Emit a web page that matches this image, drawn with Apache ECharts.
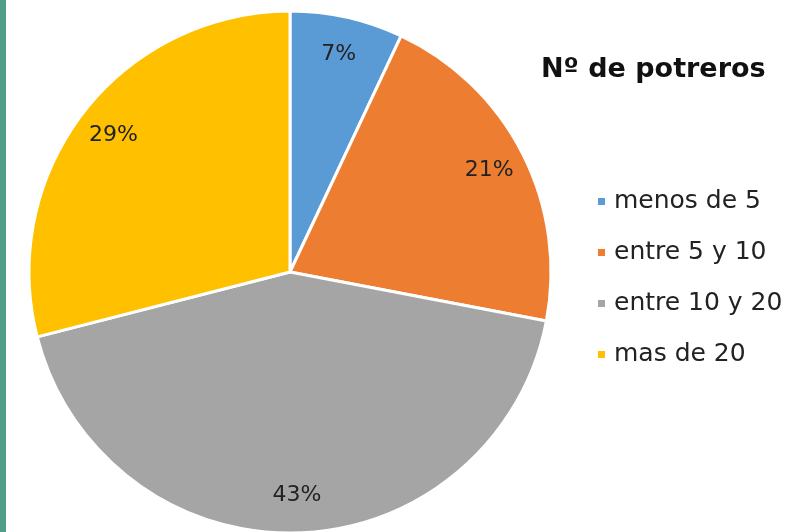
<!DOCTYPE html>
<html><head><meta charset="utf-8">
<script src="https://cdn.jsdelivr.net/npm/echarts@6/dist/echarts.min.js"></script>
<style>html,body{margin:0;padding:0;background:#fff}#c{width:802px;height:532px}</style>
</head><body><div id="c"></div>
<script>
const categories = ['menos de 5', 'entre 5 y 10', 'entre 10 y 20', 'mas de 20'];
const values = [7, 21, 43, 29];
const colors = ['#5B9BD5', '#ED7D31', '#A5A5A5', '#FFC000'];
const titleText = 'Nº de potreros';

const R = 261;
const cx = 290, cy = 272;
const data = categories.map((n, i) => ({ name: n, value: values[i], itemStyle: { color: colors[i] } }));
const labelData = categories.map((n, i) => ({ name: n, value: values[i] }));

const chart = echarts.init(document.getElementById('c'));
chart.setOption({
  animation: false,
  title: {
    text: titleText, left: 536, top: 51,
    textStyle: { fontFamily: 'DejaVu Sans', fontWeight: 'bold', fontSize: 27, color: '#111' }
  },
  legend: {
    orient: 'vertical', left: 591, top: 184,
    itemWidth: 9, itemHeight: 9, itemGap: 26, icon: 'rect',
    data: categories,
    textStyle: { fontFamily: 'DejaVu Sans', fontSize: 25, color: '#222', padding: [0, 0, 0, 3] }
  },
  graphic: [{ type: 'rect', shape: { x: 0, y: 0, width: 6, height: 532 }, style: { fill: '#4f9e88' }, silent: true }],
  series: [
    {
      type: 'pie', center: [cx, cy], radius: [0, R], startAngle: 90, clockwise: true,
      data: data, label: { show: false }, labelLine: { show: false },
      itemStyle: { borderColor: '#fff', borderWidth: 3 }, silent: true
    },
    {
      type: 'pie', center: [cx, cy], radius: [0, R * 1.69], startAngle: 90, clockwise: true,
      data: labelData, silent: true, legendHoverLink: false,
      itemStyle: { color: 'rgba(0,0,0,0)', borderWidth: 0 },
      label: { show: true, position: 'inside', formatter: '{c}%', fontFamily: 'DejaVu Sans', fontSize: 22, color: '#222' },
      labelLine: { show: false }
    }
  ]
});
</script></body></html>
